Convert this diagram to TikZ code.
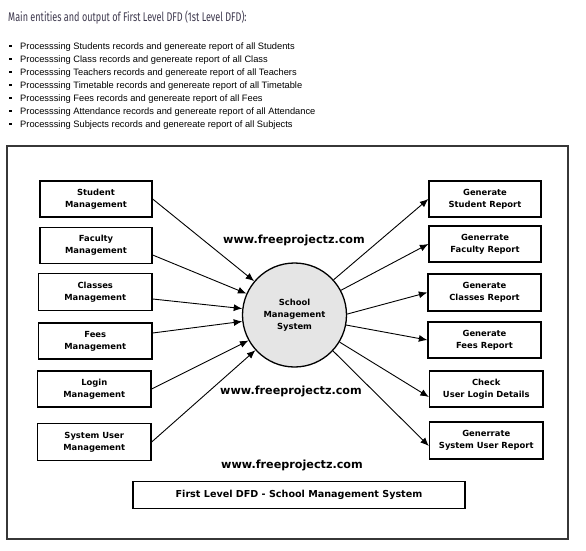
\documentclass[tikz,border=0pt]{standalone}
\usepackage{fontspec}
\setmainfont{Liberation Sans}
\newfontfamily\dfdfont{DejaVu Sans}
\newfontfamily\hdrfont{Fira Sans}[FakeStretch=0.72]
\usetikzlibrary{arrows.meta}
\definecolor{hdrcol}{RGB}{62,57,78}
\definecolor{circfill}{RGB}{229,229,229}
\definecolor{framecol}{RGB}{55,55,55}
\begin{document}
\begin{tikzpicture}[x=1pt,y=-1pt,
  ent/.style={draw=black, line width=1.3pt, rectangle, minimum height=36pt, inner sep=0pt, align=center,
    font=\dfdfont\bfseries\fontsize{8.4}{12}\selectfont},
  flow/.style={line width=0.9pt, -{Latex[length=8.5pt,width=7pt]}},
  wm/.style={inner sep=0pt, font=\dfdfont\bfseries\fontsize{11.2}{13}\selectfont},
  listline/.style={anchor=base west, inner sep=0pt, font=\fontsize{9.3}{11}\selectfont},
]
\useasboundingbox (0,0) rectangle (586,551);
\fill[white] (0,0) rectangle (586,551);

% header and list
\node[anchor=base west, inner sep=0pt, text=hdrcol, font=\hdrfont\fontsize{12.6}{14}\selectfont] (hdr) at (8,21.5)
  {Main entities and output of First Level DFD (1st Level DFD):};
\foreach \i/\t in {0/Students records and genereate report of all Students,
                   1/Class records and genereate report of all Class,
                   2/Teachers records and genereate report of all Teachers,
                   3/Timetable records and genereate report of all Timetable,
                   4/Fees records and genereate report of all Fees,
                   5/Attendance records and genereate report of all Attendance,
                   6/Subjects records and genereate report of all Subjects}{
  \fill (9.3,{44.9+13*\i}) rectangle ++(2.4,2.4);
  \node[listline] (li\i) at (20,{49.2+13*\i}) {Processsing \t};
}

% frame
\draw[framecol, line width=2pt] (7,145.5) rectangle (567.5,539);

% central process
\node[circle, draw=black, line width=1.3pt, fill=circfill, minimum size=104pt, inner sep=0pt, align=center,
  font=\dfdfont\bfseries\fontsize{8.4}{12}\selectfont] (c) at (294.5,315) {School\\Management\\System};

% left entities
\node[ent, minimum width=112pt] (ls1) at (96,199) {Student\\Management};
\node[ent, minimum width=112pt] (ls2) at (96,245.5) {Faculty\\Management};
\node[ent, minimum width=113.5pt, minimum height=37pt] (ls3) at (95.25,292) {Classes\\Management};
\node[ent, minimum width=113.5pt] (ls4) at (95.25,341) {Fees\\Management};
\node[ent, minimum width=113.5pt] (ls5) at (94.25,389) {Login\\Management};
\node[ent, minimum width=113.5pt, minimum height=37pt] (ls6) at (94.25,442) {System User\\Management};

% right outputs
\node[ent, minimum width=112pt] (rs1) at (485,199) {Generate\\Student Report};
\node[ent, minimum width=112pt] (rs2) at (485,244) {Generrate\\Faculty Report};
\node[ent, minimum width=113pt, minimum height=37pt] (rs3) at (484.5,292.5) {Generate\\Classes Report};
\node[ent, minimum width=113pt] (rs4) at (484.5,340) {Generate\\Fees Report};
\node[ent, minimum width=113.5pt] (rs5) at (486.25,389) {Check\\User Login Details};
\node[ent, minimum width=113.5pt, minimum height=37pt] (rs6) at (486.25,440.5) {Generrate\\System User Report};

% flows in
\draw[flow] (ls1.east) -- (c.140);
\draw[flow] ([yshift=-9.5pt]ls2.east) -- (c.156);
\draw[flow] ([yshift=-7pt]ls3.east) -- (c.173);
\draw[flow] ([yshift=8pt]ls4.east) -- (c.187);
\draw[flow] (ls5.east) -- (c.209);
\draw[flow] (ls6.east) -- (c.222);

% flows out
\draw[flow] (c.42) -- (rs1.west);
\draw[flow] (c.28) -- (rs2.west);
\draw[flow] (c.1) -- (rs3.west);
\draw[flow] (c.-11) -- (rs4.west);
\draw[flow] (c.-31.5) -- ([yshift=-8pt]rs5.west);
\draw[flow] (c.-43) -- ([yshift=-5.5pt]rs6.west);

% watermarks
\node[wm] (w1) at (294,240) {www.freeprojectz.com};
\node[wm] (w2) at (291,391.5) {www.freeprojectz.com};
\node[wm] (w3) at (292,465) {www.freeprojectz.com};

% caption box
\node[draw=black, line width=1.3pt, minimum width=332pt, minimum height=26.5pt, inner sep=0pt,
  font=\dfdfont\bfseries\fontsize{9.6}{12}\selectfont] (cap) at (299,495) {First Level DFD - School Management System};
\end{tikzpicture}
\end{document}
